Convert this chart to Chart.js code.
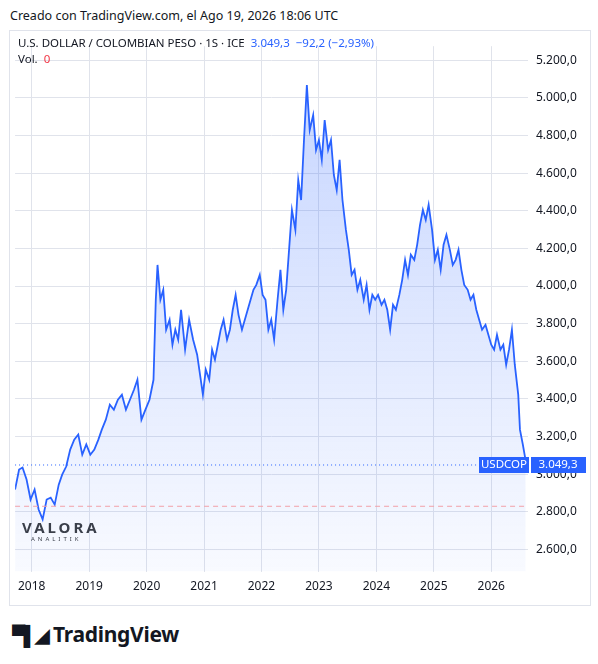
<!DOCTYPE html><html><head><meta charset="utf-8">
<script src="https://cdn.jsdelivr.net/npm/chart.js@4"></script>
<style>
body{margin:0;width:598px;height:664px;background:#fff;font-family:"Noto Sans",sans-serif;position:relative;overflow:hidden}
#hdr{position:absolute;left:10px;top:7px;font-size:12.5px;color:#131722}
#panel{position:absolute;left:9px;top:30px;width:580px;height:574px;border:1px solid #e0e3eb}
#box{position:absolute;left:10px;top:31px;width:580px;height:573px}
#leg{position:absolute;left:18px;top:35px;font-size:11.5px;color:#131722;line-height:16px}
#wm{position:absolute;left:22px;top:517px;font-size:15px;font-weight:bold;letter-spacing:3px;color:#3a3f4a}
#wm2{position:absolute;left:31px;top:535px;font-size:6px;letter-spacing:3px;color:#3a3f4a}
#tv{position:absolute;left:12px;top:620px;font-size:21px;font-weight:bold;color:#131722;letter-spacing:-0.3px}
</style></head><body>
<div id="hdr">Creado con TradingView.com, el Ago 19, 2026 18:06 UTC</div>
<div id="panel"></div>
<div id="box"><canvas id="c"></canvas></div>
<div id="leg">U.S. DOLLAR / COLOMBIAN PESO · 1S · ICE <span style="color:#2962ff">&nbsp;3.049,3 &nbsp;−92,2 (−2,93%)</span><br>Vol. <span style="color:#f23645">&nbsp;0</span></div>
<div id="wm">VALORA</div><div id="wm2">ANALITIK</div>
<div id="tv"><span style="font-size:19px;letter-spacing:-2px">▀▌◢</span> TradingView</div>
<script>
const years=[2017.71,2017.78,2017.84,2017.91,2017.98,2018.05,2018.12,2018.19,2018.26,2018.33,2018.40,2018.47,2018.53,2018.60,2018.67,2018.74,2018.81,2018.88,2018.95,2019.02,2019.09,2019.16,2019.22,2019.29,2019.36,2019.43,2019.50,2019.57,2019.64,2019.71,2019.78,2019.84,2019.91,2019.98,2020.05,2020.12,2020.16,2020.19,2020.24,2020.29,2020.34,2020.40,2020.45,2020.50,2020.55,2020.60,2020.67,2020.74,2020.81,2020.88,2020.93,2020.98,2021.03,2021.09,2021.14,2021.19,2021.24,2021.29,2021.34,2021.40,2021.45,2021.50,2021.55,2021.60,2021.66,2021.71,2021.76,2021.81,2021.86,2021.91,2021.97,2022.02,2022.07,2022.12,2022.17,2022.22,2022.28,2022.33,2022.38,2022.43,2022.48,2022.53,2022.59,2022.64,2022.69,2022.74,2022.79,2022.84,2022.90,2022.95,2023.00,2023.05,2023.10,2023.16,2023.21,2023.26,2023.31,2023.36,2023.41,2023.47,2023.52,2023.57,2023.62,2023.67,2023.72,2023.78,2023.83,2023.88,2023.93,2023.98,2024.03,2024.09,2024.14,2024.19,2024.24,2024.29,2024.34,2024.40,2024.45,2024.50,2024.55,2024.60,2024.66,2024.71,2024.76,2024.81,2024.86,2024.91,2024.97,2025.02,2025.07,2025.12,2025.17,2025.22,2025.28,2025.33,2025.38,2025.43,2025.48,2025.53,2025.59,2025.64,2025.69,2025.74,2025.79,2025.84,2025.90,2025.95,2026.00,2026.05,2026.10,2026.16,2026.21,2026.26,2026.31,2026.36,2026.41,2026.47,2026.50,2026.55,2026.59,2026.60];
const prices=[2919,3025,3036,2972,2866,2919,2813,2760,2866,2876,2839,2945,2998,3041,3131,3184,3211,3104,3158,3104,3131,3184,3237,3290,3370,3343,3396,3423,3343,3396,3449,3502,3290,3343,3396,3502,3927,4112,3927,3980,3768,3821,3688,3768,3715,3874,3662,3821,3715,3635,3529,3423,3556,3502,3662,3609,3688,3768,3821,3715,3768,3874,3953,3847,3768,3821,3874,3927,3980,4006,4059,3953,3927,3768,3821,3715,3927,4086,3874,3980,4192,4404,4298,4563,4457,4776,5067,4829,4908,4723,4776,4670,4882,4723,4776,4590,4510,4670,4457,4298,4192,4059,4086,3980,4033,3927,4006,3874,3953,3927,3953,3900,3927,3874,3768,3900,3874,3953,4033,4139,4059,4166,4139,4219,4325,4404,4351,4431,4298,4139,4192,4086,4219,4272,4192,4112,4139,4192,4086,4006,3980,3927,3953,3874,3821,3768,3794,3741,3688,3662,3741,3662,3688,3582,3662,3768,3582,3423,3237,3158,3089,3049];
const yTicks=[2600,2800,3000,3200,3400,3600,3800,4000,4200,4400,4600,4800,5000,5200];
const xTicks=[2018,2019,2020,2021,2022,2023,2024,2025,2026];
const lastPrice=3049.3, redLine=2830;
const fmt=v=>{const s=v.toFixed(1).split('.');return s[0].replace(/\B(?=(\d{3})+$)/g,'.')+','+s[1];};
const extra={id:'extra',afterDatasetsDraw(ch){const c=ch.ctx,a=ch.chartArea,y=ch.scales.y;
 c.save();
 let py=y.getPixelForValue(redLine);c.strokeStyle='#f2a0a8';c.setLineDash([5,4]);c.lineWidth=1;c.beginPath();c.moveTo(a.left,py);c.lineTo(a.right,py);c.stroke();
 py=y.getPixelForValue(lastPrice);c.strokeStyle='#2962ff';c.setLineDash([1,3]);c.beginPath();c.moveTo(a.left,py);c.lineTo(a.right,py);c.stroke();c.setLineDash([]);
 c.fillStyle='#2962ff';c.fillRect(a.right-49,py-8,50,16);c.fillRect(a.right+3,py-8,55,16);
 c.fillStyle='#fff';c.font='11.5px "Noto Sans"';c.textBaseline='middle';c.textAlign='center';c.fillText('USDCOP',a.right-24,py);c.fillText(fmt(lastPrice),a.right+30,py);
 c.restore();}};
new Chart(document.getElementById('c'),{type:'line',
 data:{datasets:[{data:years.map((x,i)=>({x,y:prices[i]})),borderColor:'#2962ff',borderWidth:1.8,pointRadius:0,tension:0,
  fill:'start',backgroundColor:(ctx)=>{const a=ctx.chart.chartArea;if(!a)return 'rgba(41,98,255,0.1)';const g=ctx.chart.ctx.createLinearGradient(0,a.top,0,a.bottom);g.addColorStop(0,'rgba(41,98,255,0.28)');g.addColorStop(1,'rgba(41,98,255,0.03)');return g;}}]},
 options:{responsive:true,maintainAspectRatio:false,animation:false,layout:{padding:{left:0,right:0,top:0,bottom:2}},
  plugins:{legend:{display:false},tooltip:{enabled:false}},
  scales:{x:{type:'linear',min:2017.71,max:2026.64,grid:{color:'#e0e3eb',drawTicks:false},border:{display:false},
    afterBuildTicks:s=>{s.ticks=xTicks.map(v=>({value:v}));},ticks:{color:'#131722',font:{size:12,family:'Noto Sans'},padding:8,maxRotation:0,callback:v=>String(v)}},
   y:{position:'right',min:2483,max:5274,grid:{color:'#e0e3eb',drawTicks:false},border:{display:false},
    afterBuildTicks:s=>{s.ticks=yTicks.map(v=>({value:v}));},afterFit:s=>{s.width=62;},
    ticks:{color:'#131722',font:{size:12,family:'Noto Sans'},padding:8,callback:v=>fmt(v)}}}},
 plugins:[extra]});
</script></body></html>
